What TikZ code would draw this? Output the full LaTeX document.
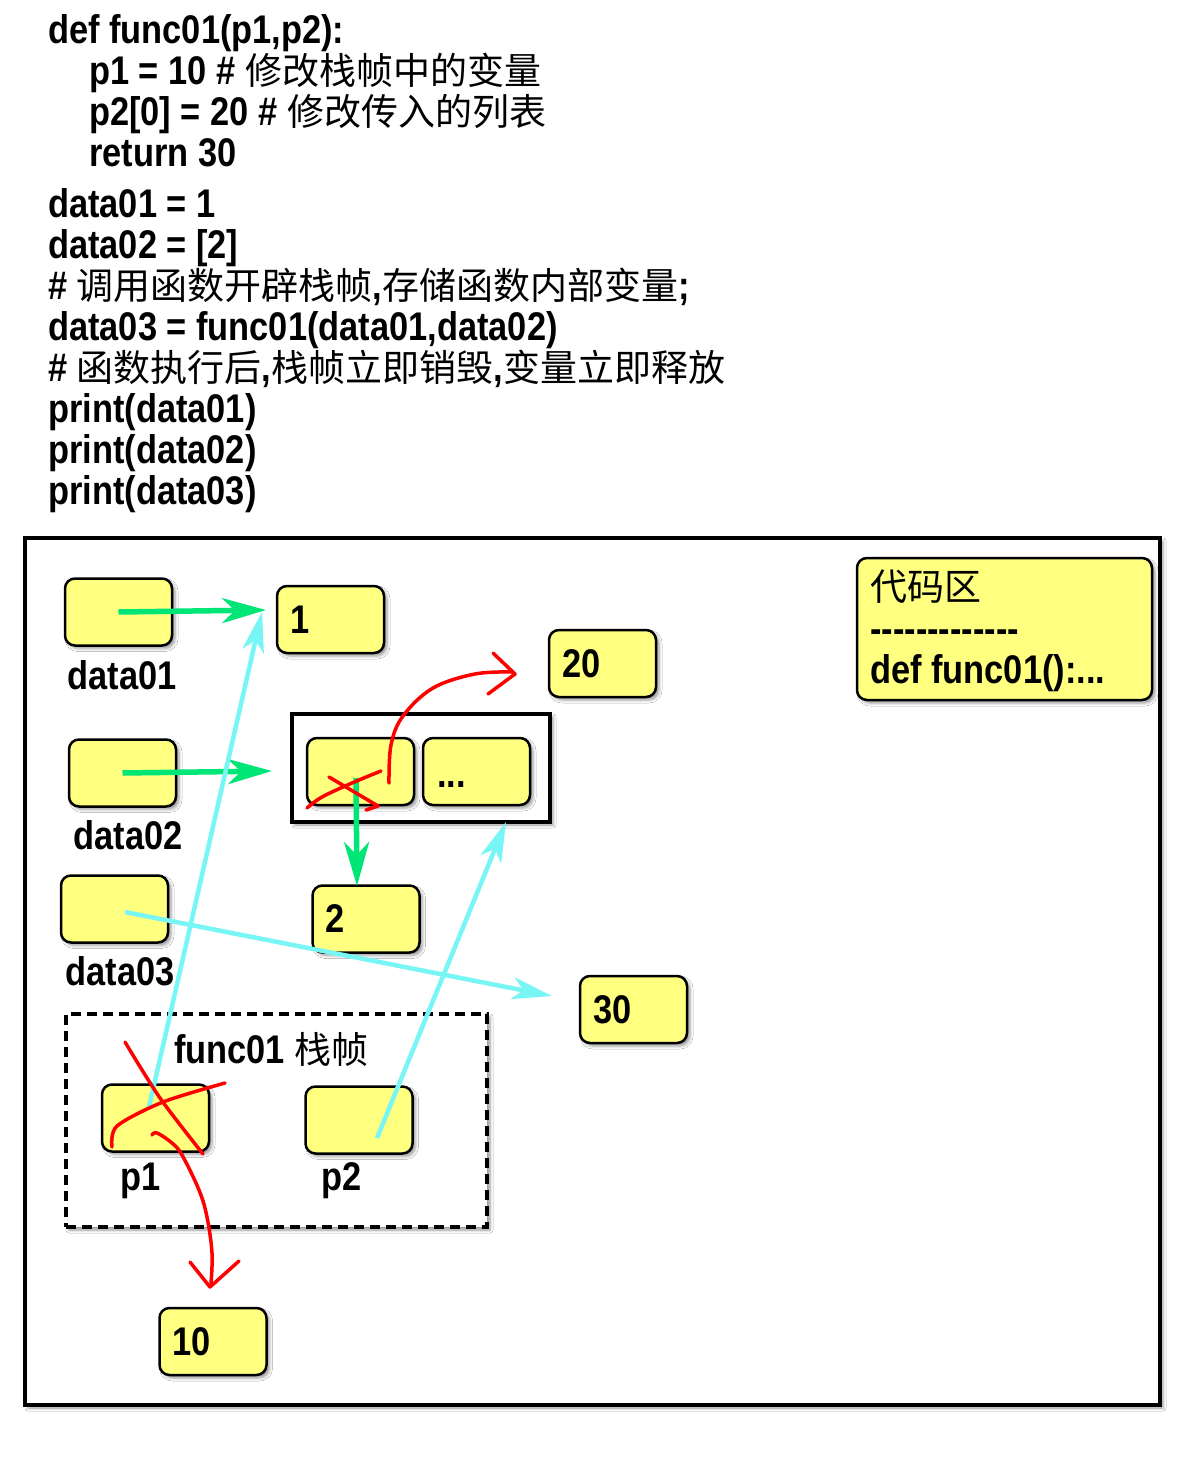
\documentclass[tikz,border=0pt]{standalone}
\usepackage{fontspec}
\newfontfamily\nar[FakeStretch=0.86]{Liberation Sans Bold}
\newfontfamily\cjk{Noto Sans CJK SC}
\usetikzlibrary{arrows.meta,shadows.blur}
\definecolor{yel}{RGB}{255,255,128}
\definecolor{grn}{RGB}{0,230,118}
\definecolor{cyn}{RGB}{120,245,245}
\newcommand\zh[1]{{\cjk\mdseries\fontsize{37}{40}\selectfont #1}}
\newcommand\dlbl{\nar\fontsize{40}{44}\selectfont}
\tikzset{
  shd/.style={blur shadow={shadow xshift=3pt, shadow yshift=-3pt, shadow blur radius=3pt, shadow opacity=40}},
  ybox/.style={draw=black, line width=2.5, rounded corners=10, fill=yel, minimum width=107, minimum height=67,
     inner sep=0, text width=81, align=left, font=\dlbl, shd},
  codeline/.style={anchor=base west, inner sep=0, font=\dlbl},
  lbl/.style={inner sep=0, font=\dlbl},
  grnarrow/.style={draw=grn, line width=5.5, -{Stealth[length=44pt, width=25pt, inset=13pt]}},
  cynarrow/.style={draw=cyn, line width=4.5, -{Stealth[length=40pt, width=22pt, inset=11pt]}},
  redpen/.style={draw=red, line width=3.5, line cap=round, line join=round},
}
\begin{document}
\begin{tikzpicture}[x=1pt, y=-1pt]
\useasboundingbox (0,0) rectangle (1202,1458);
\fill[white] (0,0) rectangle (1202,1458);

% code text
\node[codeline] (c1) at (48,44) {def func01(p1,p2):};
\node[codeline] (c2) at (89,85) {p1 = 10 \# \zh{修改栈帧中的变量}};
\node[codeline] (c3) at (89,126) {p2[0] = 20 \# \zh{修改传入的列表}};
\node[codeline] (c4) at (89,167) {return 30};
\node[codeline] (c5) at (48,217) {data01 = 1};
\node[codeline] (c6) at (48,258) {data02 = [2]};
\node[codeline] (c7) at (48,299) {\# \zh{调用函数开辟栈帧},\zh{存储函数内部变量};};
\node[codeline] (c8) at (48,340) {data03 = func01(data01,data02)};
\node[codeline] (c9) at (48,381) {\# \zh{函数执行后},\zh{栈帧立即销毁},\zh{变量立即释放}};
\node[codeline] (c10) at (48,422) {print(data01)};
\node[codeline] (c11) at (48,463) {print(data02)};
\node[codeline] (c12) at (48,504) {print(data03)};

% memory frame
\node[draw=black, line width=4, fill=white, minimum width=1135, minimum height=867, inner sep=0, shd] (mem) at (592.5,971.5) {};

% code area
\node[ybox, minimum width=295, minimum height=142, text width=269] (code) at (1004.5,629) {};
\node[codeline] (codet1) at (870,600) {\zh{代码区}};
\node[codeline] (codet2) at (870,642) {-------------};
\node[codeline] (codet3) at (870,683) {def func01():...};

% variables
\node[ybox] (d1) at (118.5,612) {};
\node[lbl] (d1l) at (122,675) {data01};
\node[ybox] (d2) at (122.5,773) {};
\node[lbl] (d2l) at (128,835) {data02};
\node[ybox] (d3) at (114.5,909) {};
\node[lbl] (d3l) at (120,971) {data03};

% values
\node[ybox] (one) at (330.5,619.5) {1};
\node[ybox] (twenty) at (602.5,663.5) {20};
\node[ybox] (two) at (366,919) {2};
\node[ybox] (thirty) at (633.5,1009.5) {30};
\node[ybox] (ten) at (213,1341.5) {10};

% list
\node[draw=black, line width=4, fill=white, minimum width=258, minimum height=108, inner sep=0, shd] (lst) at (421,768) {};
\node[ybox] (el1) at (360.5,771.5) {};
\node[ybox] (el2) at (476.5,771.5) {};
\node[codeline] (el2t) at (437,787) {...};

% stack frame
\node[draw=black, fill=white, line width=3.5, dash pattern=on 10pt off 6pt, minimum width=421, minimum height=213, inner sep=0, shd] (frame) at (276.5,1120.5) {};
\node[codeline] (framet) at (174,1063) {func01 \zh{栈帧}};
\node[ybox] (p1) at (155.5,1118) {};
\node[lbl] (p1l) at (141,1181) {p1};
\node[ybox] (p2) at (359,1120) {};
\node[lbl] (p2l) at (342,1181) {p2};

% arrow end points
\coordinate (t1) at (266,610);
\coordinate (t2) at (272,771);
\coordinate (t3) at (357,886);
\coordinate (s3) at (356,778);
\coordinate (tp1) at (262,612);
\coordinate (sp1) at (149,1107);
\coordinate (tp2) at (506,822);
\coordinate (sp2) at (377,1138);
\coordinate (t30) at (552,996);
\coordinate (s30) at (125,912);

% green arrows
\draw[grnarrow] (d1.center) -- (t1);
\draw[grnarrow] (d2.center) -- (t2);
\draw[grnarrow] (s3) -- (t3);

% cyan arrows
\draw[cynarrow] (sp1) -- (tp1);
\draw[cynarrow] (sp2) -- (tp2);
\draw[cynarrow] (s30) -- (t30);

% red strokes on the list element
\draw[redpen] plot[smooth, tension=0.6] coordinates {(307,808) (322,797) (352,783) (381,771)};
\draw[redpen] (329,777) -- (378,806) -- (366,810);
\draw[redpen] plot[smooth, tension=0.6] coordinates {(389,783) (391,745) (403,716) (433,688) (475,674) (512,672)};
\draw[redpen] (493,653) -- (515,674) -- (488,694);

% red strokes on p1
\draw[redpen] plot[smooth, tension=0.5] coordinates {(125,1042) (160,1098) (203,1154)};
\draw[redpen] plot[smooth, tension=0.5] coordinates {(112,1147) (117,1126) (163,1102) (225,1083)};
\draw[redpen] plot[smooth, tension=0.6] coordinates {(152,1135) (157,1133) (172,1143) (182,1155) (199,1190) (207,1217) (212,1253) (211,1283)};
\draw[redpen] (190,1262) -- (210,1287) -- (239,1261);
\end{tikzpicture}
\end{document}
